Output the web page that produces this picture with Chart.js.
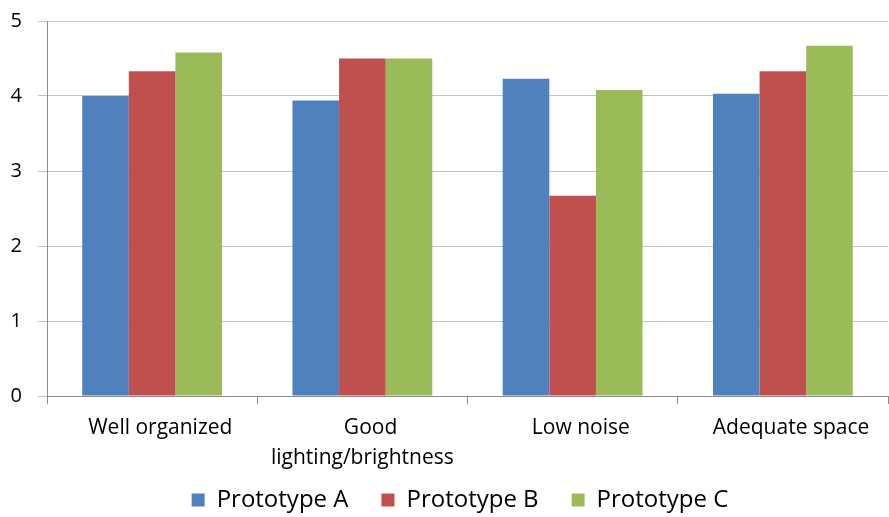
<!DOCTYPE html>
<html>
<head>
<meta charset="utf-8">
<script src="https://cdn.jsdelivr.net/npm/chart.js@4/dist/chart.umd.min.js"></script>
<style>
  html, body { margin: 0; padding: 0; background: #fff; }
  #wrap { width: 889px; height: 517px; }
</style>
</head>
<body>
<div id="wrap"><canvas id="c" width="889" height="517"></canvas></div>
<script>
// Survey ratings per workspace criterion
const categories = [
  "   Well organized",
  ["   Good", "lighting/brightness"],
  "   Low noise",
  "   Adequate space"
];
const seriesNames = ["Prototype A", "Prototype B", "Prototype C"];
const prototypeA = [4.00, 3.94, 4.23, 4.03];
const prototypeB = [4.33, 4.50, 2.67, 4.33];
const prototypeC = [4.58, 4.50, 4.08, 4.67];
const yTicks = [0, 1, 2, 3, 4, 5];

const colors = ["#4F81BD", "#C0504D", "#9BBB59"];
const fontFamily = "'Open Sans', Lato, sans-serif";

// Legend sits in a compact strip below the axis labels, nudged slightly right
const legendStrip = {
  id: "legendStrip",
  beforeInit(chart) {
    const legend = chart.legend;
    if (!legend) return;
    const fit = legend.fit;
    legend.fit = function () { fit.call(this); this.height = 40; };
    const draw = legend.draw;
    legend.draw = function () {
      const saved = { top: this.top, left: this.left, right: this.right };
      this.top -= 22;
      this.left += 16;
      this.right += 16;
      draw.call(this);
      Object.assign(this, saved);
    };
  }
};

new Chart(document.getElementById("c"), {
  type: "bar",
  data: {
    labels: categories,
    datasets: [prototypeA, prototypeB, prototypeC].map((vals, i) => ({
      label: seriesNames[i],
      data: vals,
      backgroundColor: colors[i],
      borderWidth: 0,
      barPercentage: 1.0,
      categoryPercentage: 0.665
    }))
  },
  plugins: [legendStrip],
  options: {
    responsive: false,
    animation: false,
    layout: { padding: { top: 21, right: 1, left: 0, bottom: 0 } },
    plugins: {
      tooltip: { enabled: false },
      legend: {
        position: "bottom",
        labels: {
          color: "#000",
          font: { family: fontFamily, size: 24 },
          boxWidth: 13,
          boxHeight: 13,
          padding: 33
        }
      }
    },
    scales: {
      x: {
        grid: {
          offset: true,
          drawOnChartArea: false,
          drawTicks: true,
          tickLength: 8,
          color: "#8c8c8c"
        },
        border: { display: true, color: "#8c8c8c", width: 1 },
        ticks: {
          color: "#000",
          font: { family: fontFamily, size: 21, lineHeight: 1.43 },
          maxRotation: 0,
          autoSkip: false,
          padding: 9
        },
        afterFit: (s) => { s.height = 81; }
      },
      y: {
        min: 0,
        max: 5,
        afterBuildTicks: (s) => { s.ticks = yTicks.map(v => ({ value: v })); },
        grid: {
          color: "#c4c4c4",
          tickLength: 9,
          lineWidth: 1
        },
        border: { display: true, color: "#8c8c8c", width: 1 },
        ticks: {
          color: "#000",
          font: { family: fontFamily, size: 20 },
          padding: 16
        },
        afterFit: (s) => { s.width = 47; s.paddingTop = 0; s.paddingBottom = 0; }
      }
    }
  }
});
</script>
</body>
</html>
